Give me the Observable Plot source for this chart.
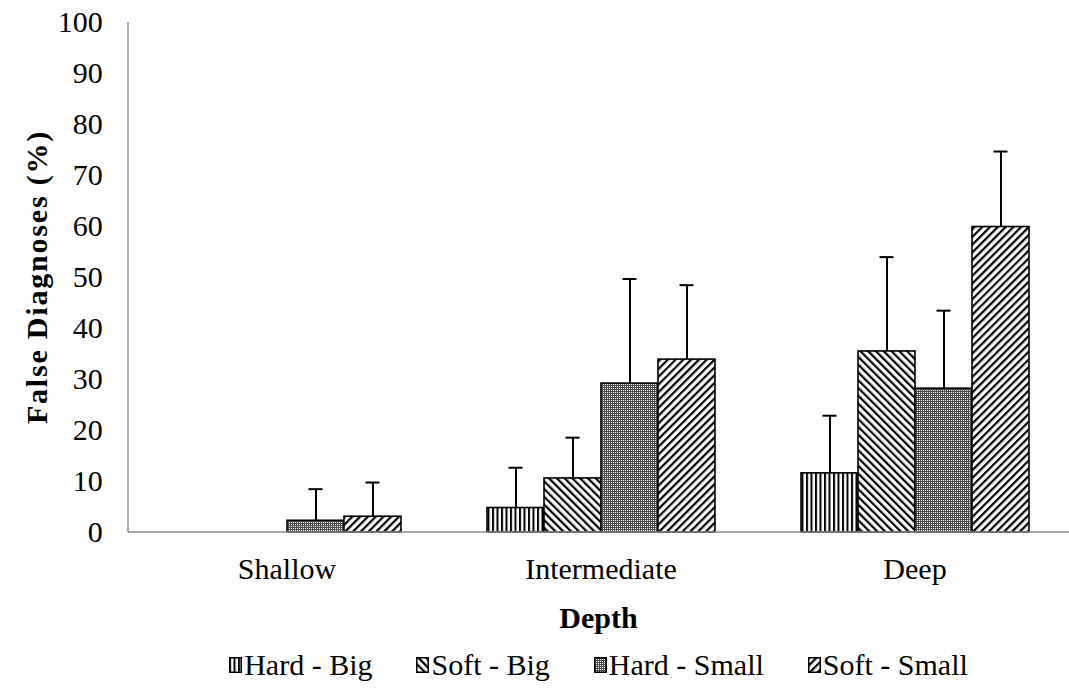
<!DOCTYPE html>
<html>
<head>
<meta charset="utf-8">
<script src="https://cdn.jsdelivr.net/npm/d3@7"></script>
<script src="https://cdn.jsdelivr.net/npm/@observablehq/plot@0.6"></script>
<style>
  html, body { margin: 0; padding: 0; background: #fff; }
  #wrap { position: relative; width: 1069px; height: 689px; font-family: "Liberation Serif", "Times New Roman", serif; }
  #legend { position: absolute; left: 128px; top: 640px; width: 941px; height: 49px; display: flex; justify-content: center; gap: 44px; }
  .item { height: 49px; font-size: 30px; line-height: 49px; white-space: nowrap; color: #000; }
  .item svg { vertical-align: middle; margin-right: 2px; position: relative; top: -3px; }
</style>
</head>
<body>
<svg width="0" height="0" style="position:absolute">
  <defs>
    <pattern id="p-hb" patternUnits="userSpaceOnUse" width="4.5" height="10">
      <rect width="4.5" height="10" fill="#fff"/>
      <rect x="0" y="0" width="2" height="10" fill="#000"/>
    </pattern>
    <pattern id="p-sb" patternUnits="userSpaceOnUse" width="5.5" height="10" patternTransform="rotate(-45)">
      <rect width="5.5" height="10" fill="#fff"/>
      <rect x="0" y="0" width="2.2" height="10" fill="#000"/>
    </pattern>
    <pattern id="p-hs" patternUnits="userSpaceOnUse" width="2" height="2">
      <rect width="2" height="2" fill="#4a4a4a"/>
      <rect x="0" y="0" width="1" height="1" fill="#fff"/>
    </pattern>
    <pattern id="p-ss" patternUnits="userSpaceOnUse" width="5.5" height="10" patternTransform="rotate(45)">
      <rect width="5.5" height="10" fill="#fff"/>
      <rect x="0" y="0" width="2.2" height="10" fill="#000"/>
    </pattern>
  </defs>
</svg>
<div id="wrap"></div>
<script>
// ---- data ----
const depths = ["Shallow", "Intermediate", "Deep"];
const series = ["Hard - Big", "Soft - Big", "Hard - Small", "Soft - Small"];
const patterns = ["url(#p-hb)", "url(#p-sb)", "url(#p-hs)", "url(#p-ss)"];
// mean values (%) per depth, in series order
const shallowMeans = [0, 0, 2.3, 3.1];
const intermediateMeans = [4.8, 10.6, 29.2, 33.9];
const deepMeans = [11.6, 35.5, 28.2, 59.9];
// upper error magnitudes
const shallowErr = [0, 0, 6.2, 6.7];
const intermediateErr = [7.9, 8.0, 20.5, 14.6];
const deepErr = [11.3, 18.5, 15.3, 14.8];
const yTicks = [0, 10, 20, 30, 40, 50, 60, 70, 80, 90, 100];

const meansByDepth = [shallowMeans, intermediateMeans, deepMeans];
const errByDepth = [shallowErr, intermediateErr, deepErr];
const table = [];
depths.forEach((d, i) => series.forEach((s, j) => {
  table.push({depth: d, series: s, value: meansByDepth[i][j], err: errByDepth[i][j]});
}));
const nonzero = table.filter(d => d.value > 0);

const font = "Liberation Serif";
const fxRange = [129, 1072];
const padOuter = 0.1325;
const firstFacetLeft = fxRange[0] + padOuter * (fxRange[1] - fxRange[0]) / depths.length;

const plot = Plot.plot({
  width: 1069,
  height: 640,
  marginLeft: 128,
  marginRight: 0,
  marginTop: 22,
  marginBottom: 108,
  style: {fontFamily: font, fontSize: "30px", color: "#000", background: "#fff"},
  fx: {domain: depths, range: fxRange, paddingInner: 0.265, paddingOuter: padOuter, label: null},
  x: {domain: series, padding: 0, axis: null},
  y: {domain: [0, 100], axis: null},
  color: {domain: series, range: patterns},
  marks: [
    Plot.axisY({ticks: yTicks, tickSize: 0, tickPadding: (firstFacetLeft - 102), label: null, fontSize: 30}),
    Plot.axisFx({anchor: "bottom", tickSize: 0, tickPadding: 25, label: null, fontSize: 30}),
    Plot.barY(nonzero, {fx: "depth", x: "series", y: "value", fill: "series", stroke: "#000", strokeWidth: 1.6}),
    Plot.ruleX(nonzero, {fx: "depth", x: "series", y1: "value", y2: d => d.value + d.err, stroke: "#000", strokeWidth: 2}),
    Plot.tickY(nonzero, {fx: "depth", x: "series", y: d => d.value + d.err, stroke: "#000", strokeWidth: 2, insetLeft: 21.5, insetRight: 21.5})
  ]
});

// axis lines (from scales)
const ys = plot.scale("y");
const y0 = ys.apply(0), y100 = ys.apply(100);
const svg = d3.select(plot);
svg.append("line").attr("x1", 128).attr("x2", 1069).attr("y1", y0).attr("y2", y0)
  .attr("stroke", "#8c8c8c").attr("stroke-width", 1.5);
svg.append("line").attr("x1", 128).attr("x2", 128).attr("y1", y100).attr("y2", y0)
  .attr("stroke", "#8c8c8c").attr("stroke-width", 1.5);
// axis titles
svg.append("text").text("Depth")
  .attr("x", (128 + 1069) / 2).attr("y", 628)
  .attr("text-anchor", "middle").attr("font-weight", "bold").attr("font-size", 30).attr("font-family", font);
svg.append("text").text("False Diagnoses (%)")
  .attr("transform", `translate(47,${(y0 + y100) / 2}) rotate(-90)`)
  .attr("text-anchor", "middle").attr("font-weight", "bold").attr("font-size", 30)
  .attr("letter-spacing", "1.8px").attr("font-family", font);

const wrap = document.getElementById("wrap");
wrap.appendChild(plot);

// legend
const legend = document.createElement("div");
legend.id = "legend";
series.forEach((s, i) => {
  const it = document.createElement("div");
  it.className = "item";
  it.innerHTML = `<svg width="13" height="16"><rect x="0.75" y="0.75" width="11.5" height="14.5" fill="${patterns[i]}" stroke="#000" stroke-width="1.5"/></svg>${s}`;
  legend.appendChild(it);
});
wrap.appendChild(legend);
</script>
</body>
</html>
